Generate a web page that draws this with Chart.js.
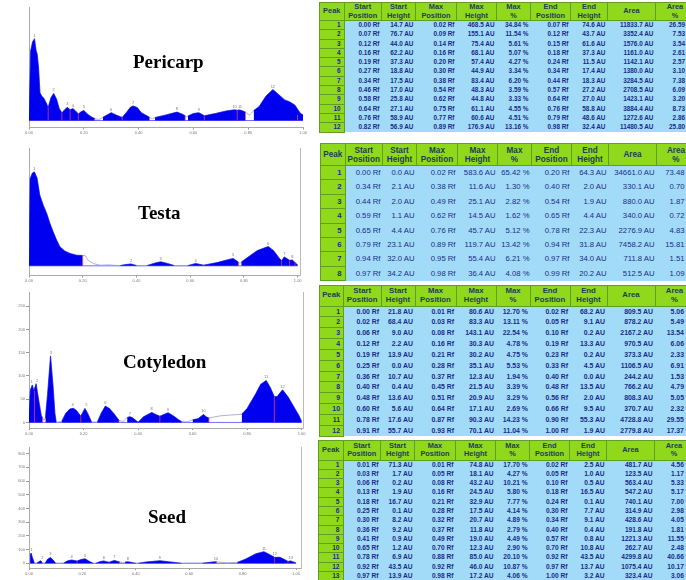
<!DOCTYPE html>
<html>
<head>
<meta charset="utf-8">
<title>Densitometric profiles</title>
<script src="https://cdn.jsdelivr.net/npm/chart.js@4.4.1/dist/chart.umd.min.js"></script>
<style>
  body { margin: 0; width: 686px; height: 580px; overflow: hidden; background: #fff; position: relative;
         font-family: "Liberation Sans", Arial, sans-serif; }
  canvas.panel { position: absolute; left: 0; }
  .title { position: absolute; font-family: "Liberation Serif", "Times New Roman", serif; font-weight: bold;
           font-size: 19px; line-height: 19px; color: #000; white-space: nowrap; z-index: 2; }
  .peaks { position: absolute; border-collapse: collapse; table-layout: fixed; color: #1a2b8a; }
  .peaks th { background: #8fd81c; border: 1px solid #5f9e1e; color: #1f3d5a; font-weight: bold; padding: 0;
              text-align: center; vertical-align: middle; overflow: hidden; white-space: nowrap; }
  .peaks td { background: #a2dbf7; padding: 0 2px 0 0; text-align: right; white-space: nowrap; overflow: hidden;
              vertical-align: middle; }
  .peaks td.pk { background: #8fd81c; border: 1px solid #5f9e1e; font-weight: bold; padding-right: 3px; }
</style>
</head>
<body>
<canvas id="pericarpChart" class="panel"></canvas>
<canvas id="testaChart" class="panel"></canvas>
<canvas id="cotyledonChart" class="panel"></canvas>
<canvas id="seedChart" class="panel"></canvas>
<div class="title" style="left:133px;top:52px">Pericarp</div>
<div class="title" style="left:138px;top:203px">Testa</div>
<div class="title" style="left:123px;top:352px">Cotyledon</div>
<div class="title" style="left:148px;top:507px">Seed</div>

<script>
// ---- profile traces (Rf, AU) ----
const pericarpRf = [0.000, 0.006, 0.013, 0.020, 0.026, 0.030, 0.035, 0.040, 0.046, 0.053, 0.060, 0.070, 0.080, 0.090, 0.100, 0.110, 0.120, 0.130, 0.140, 0.150, 0.160, 0.170, 0.180, 0.190, 0.200, 0.215, 0.230, 0.240, 0.255, 0.270, 0.285, 0.300, 0.320, 0.340, 0.355, 0.370, 0.380, 0.395, 0.410, 0.440, 0.450, 0.460, 0.500, 0.540, 0.560, 0.570, 0.575, 0.580, 0.600, 0.620, 0.640, 0.680, 0.720, 0.750, 0.760, 0.770, 0.790, 0.805, 0.820, 0.840, 0.865, 0.890, 0.910, 0.933, 0.950, 0.970, 0.990, 1.000];
const pericarpAU = [14.7, 400, 450, 468.5, 400, 380, 300, 160, 140, 130, 110, 74.6, 130, 155.1, 125, 70, 43.7, 62, 75.4, 61.6, 68.1, 55, 37.3, 50, 57.4, 35, 18, 11.5, 5, 18.8, 32, 44.9, 30, 17.4, 45, 76, 83.4, 74, 45, 18.3, 10, 17.0, 32, 48.3, 36, 27.2, 20, 25.8, 40, 44.8, 27.0, 40, 55, 61.1, 58.8, 60.6, 48.6, 30, 56.9, 80, 140, 176.9, 150, 118, 108, 89, 42, 32];
const pericarpGaps = [[0.245, 0.265], [0.445, 0.455], [0.572, 0.578], [0.795, 0.815]];

const testaRf = [0.000, 0.004, 0.012, 0.020, 0.030, 0.040, 0.053, 0.066, 0.078, 0.090, 0.103, 0.115, 0.134, 0.153, 0.177, 0.200, 0.208, 0.220, 0.240, 0.265, 0.300, 0.320, 0.340, 0.360, 0.380, 0.400, 0.420, 0.440, 0.470, 0.490, 0.515, 0.540, 0.565, 0.590, 0.620, 0.650, 0.700, 0.740, 0.760, 0.780, 0.785, 0.790, 0.820, 0.850, 0.890, 0.910, 0.930, 0.940, 0.950, 0.970, 0.980, 0.990, 1.000];
const testaAU = [0.0, 540, 575, 583.6, 545, 440, 377, 325, 263, 211, 159, 118, 91, 77, 66, 64.3, 66, 35, 14, 4, 6, 3, 2.1, 8, 11.6, 2.0, 1, 2.0, 18, 25.1, 15, 1.9, 1, 1.1, 14.5, 4.4, 20, 38, 45.7, 22.3, 15, 23.1, 60, 95, 119.7, 95, 50, 32.0, 55.4, 34.0, 36.4, 20.2, 5];
const testaGaps = [[0.202, 0.338], [0.402, 0.438], [0.542, 0.588], [0.781, 0.789]];

const cotyledonRf = [0.000, 0.005, 0.012, 0.018, 0.026, 0.035, 0.045, 0.050, 0.055, 0.060, 0.068, 0.079, 0.088, 0.095, 0.100, 0.110, 0.120, 0.135, 0.150, 0.163, 0.175, 0.190, 0.205, 0.215, 0.230, 0.240, 0.250, 0.265, 0.280, 0.295, 0.310, 0.330, 0.345, 0.360, 0.370, 0.380, 0.400, 0.420, 0.450, 0.465, 0.480, 0.510, 0.530, 0.550, 0.560, 0.580, 0.600, 0.620, 0.640, 0.650, 0.660, 0.700, 0.740, 0.770, 0.780, 0.800, 0.830, 0.850, 0.870, 0.885, 0.900, 0.910, 0.930, 0.950, 0.970, 0.990, 1.000];
const cotyledonAU = [21.8, 70, 80.6, 68.2, 83.3, 50, 15, 9.1, 4, 9.0, 60, 143.1, 80, 20, 0.2, 1, 2.2, 20, 29, 30.3, 25, 13.3, 30.2, 20, 0.2, 1, 0.0, 20, 35.1, 30, 20, 4.5, 2, 10.7, 12.3, 10, 0.4, 12, 21.5, 17, 13.5, 20.9, 14, 5, 2.0, 1, 5.6, 8, 17.1, 12, 9.5, 14, 16, 17, 17.6, 30, 60, 82, 90.3, 75, 55.3, 55.7, 70.1, 55, 35, 15, 1.9];
const cotyledonGaps = [[0.052, 0.058], [0.102, 0.118], [0.232, 0.248], [0.332, 0.358], [0.562, 0.598], [0.662, 0.778]];

const seedRf = [0.004, 0.008, 0.013, 0.020, 0.025, 0.030, 0.040, 0.045, 0.050, 0.055, 0.060, 0.070, 0.080, 0.090, 0.100, 0.115, 0.130, 0.145, 0.160, 0.170, 0.180, 0.195, 0.210, 0.225, 0.240, 0.245, 0.250, 0.265, 0.280, 0.290, 0.300, 0.310, 0.320, 0.330, 0.340, 0.350, 0.360, 0.370, 0.385, 0.400, 0.405, 0.410, 0.440, 0.490, 0.530, 0.570, 0.610, 0.650, 0.680, 0.700, 0.703, 0.740, 0.780, 0.810, 0.850, 0.880, 0.900, 0.920, 0.940, 0.960, 0.970, 0.980, 0.990, 1.000];
const seedAU = [60, 74.8, 40, 2.5, 1, 1.7, 15, 18.1, 1.0, 0.5, 0.2, 30, 43.2, 25, 0.5, 0.5, 1.9, 18, 24.5, 20, 16.5, 28, 32.9, 15, 0.1, 0.1, 0.1, 12, 17.5, 12, 7.7, 15, 20.7, 15, 9.1, 6, 9.2, 11.8, 6, 0.4, 0.5, 0.9, 10, 19.0, 10, 0.8, 2, 1.2, 8, 12.3, 10.8, 4, 6.9, 30, 70, 85.0, 65, 43.5, 44, 25, 13.7, 17.2, 10, 3.2];
const seedGaps = [[0.022, 0.028], [0.052, 0.058], [0.102, 0.128], [0.242, 0.248], [0.342, 0.358], [0.402, 0.408], [0.572, 0.648], [0.705, 0.775]];

const rfTicks = [0, 0.2, 0.4, 0.6, 0.8, 1.0];

// ---- peak tables ----
const headerLines = [['Peak'], ['Start', 'Position'], ['Start', 'Height'], ['Max', 'Position'], ['Max', 'Height'], ['Max', '%'], ['End', 'Position'], ['End', 'Height'], ['Area'], ['Area', '%']];
const units = [' Rf', ' AU', ' Rf', ' AU', ' %', ' Rf', ' AU', ' AU', ' %'];
const decimals = [2, 1, 2, 1, 2, 2, 1, 1, 2];

const pericarpStartPos = [0.00, 0.07, 0.12, 0.16, 0.19, 0.27, 0.34, 0.46, 0.58, 0.64, 0.76, 0.82];
const pericarpStartH = [14.7, 76.7, 44.0, 62.2, 37.3, 18.8, 17.5, 17.0, 25.8, 27.1, 58.9, 56.9];
const pericarpMaxPos = [0.02, 0.09, 0.14, 0.16, 0.20, 0.30, 0.38, 0.54, 0.62, 0.75, 0.77, 0.89];
const pericarpMaxH = [468.5, 155.1, 75.4, 68.1, 57.4, 44.9, 83.4, 48.3, 44.8, 61.1, 60.6, 176.9];
const pericarpMaxPct = [34.84, 11.54, 5.61, 5.07, 4.27, 3.34, 6.20, 3.59, 3.33, 4.55, 4.51, 13.16];
const pericarpEndPos = [0.07, 0.12, 0.15, 0.18, 0.24, 0.34, 0.44, 0.57, 0.64, 0.76, 0.79, 0.98];
const pericarpEndH = [74.6, 43.7, 61.6, 37.3, 11.5, 17.4, 18.3, 27.2, 27.0, 58.8, 48.6, 32.4];
const pericarpArea = [11833.7, 3352.4, 1576.0, 1161.0, 1142.1, 1380.0, 3284.5, 2708.5, 1423.1, 3884.4, 1272.6, 11480.5];
const pericarpAreaPct = [26.59, 7.53, 3.54, 2.61, 2.57, 3.10, 7.38, 6.09, 3.20, 8.73, 2.86, 25.80];

const testaStartPos = [0.00, 0.34, 0.44, 0.59, 0.65, 0.79, 0.94, 0.97];
const testaStartH = [0.0, 2.1, 2.0, 1.1, 4.4, 23.1, 32.0, 34.2];
const testaMaxPos = [0.02, 0.38, 0.49, 0.62, 0.76, 0.89, 0.95, 0.98];
const testaMaxH = [583.6, 11.6, 25.1, 14.5, 45.7, 119.7, 55.4, 36.4];
const testaMaxPct = [65.42, 1.30, 2.82, 1.62, 5.12, 13.42, 6.21, 4.08];
const testaEndPos = [0.20, 0.40, 0.54, 0.65, 0.78, 0.94, 0.97, 0.99];
const testaEndH = [64.3, 2.0, 1.9, 4.4, 22.3, 31.8, 34.0, 20.2];
const testaArea = [34661.0, 330.1, 880.0, 340.0, 2276.9, 7458.2, 711.8, 512.5];
const testaAreaPct = [73.48, 0.70, 1.87, 0.72, 4.83, 15.81, 1.51, 1.09];

const cotyledonStartPos = [0.00, 0.02, 0.06, 0.12, 0.19, 0.25, 0.36, 0.40, 0.48, 0.60, 0.78, 0.91];
const cotyledonStartH = [21.8, 68.4, 9.0, 2.2, 13.9, 0.0, 10.7, 0.4, 13.6, 5.6, 17.6, 55.7];
const cotyledonMaxPos = [0.01, 0.03, 0.08, 0.16, 0.21, 0.28, 0.37, 0.45, 0.51, 0.64, 0.87, 0.93];
const cotyledonMaxH = [80.6, 83.3, 143.1, 30.3, 30.2, 35.1, 12.3, 21.5, 20.9, 17.1, 90.3, 70.1];
const cotyledonMaxPct = [12.70, 13.11, 22.54, 4.78, 4.75, 5.53, 1.94, 3.39, 3.29, 2.69, 14.23, 11.04];
const cotyledonEndPos = [0.02, 0.05, 0.10, 0.19, 0.23, 0.33, 0.40, 0.48, 0.56, 0.66, 0.90, 1.00];
const cotyledonEndH = [68.2, 9.1, 0.2, 13.3, 0.2, 4.5, 0.0, 13.5, 2.0, 9.5, 55.3, 1.9];
const cotyledonArea = [809.5, 878.2, 2167.2, 970.5, 373.3, 1106.5, 244.2, 766.2, 808.3, 370.7, 4728.8, 2779.8];
const cotyledonAreaPct = [5.06, 5.49, 13.54, 6.06, 2.33, 6.91, 1.53, 4.79, 5.05, 2.32, 29.55, 17.37];

const seedStartPos = [0.01, 0.03, 0.06, 0.13, 0.18, 0.25, 0.30, 0.36, 0.41, 0.65, 0.78, 0.92, 0.97];
const seedStartH = [71.3, 1.7, 0.2, 1.9, 16.7, 0.1, 8.2, 9.2, 0.9, 1.2, 6.9, 43.5, 13.9];
const seedMaxPos = [0.01, 0.05, 0.08, 0.16, 0.21, 0.28, 0.32, 0.37, 0.49, 0.70, 0.88, 0.92, 0.98];
const seedMaxH = [74.8, 18.1, 43.2, 24.5, 32.9, 17.5, 20.7, 11.8, 19.0, 12.3, 85.0, 46.0, 17.2];
const seedMaxPct = [17.70, 4.27, 10.21, 5.80, 7.77, 4.14, 4.89, 2.79, 4.49, 2.90, 20.10, 10.87, 4.06];
const seedEndPos = [0.02, 0.05, 0.10, 0.18, 0.24, 0.30, 0.34, 0.40, 0.57, 0.70, 0.92, 0.97, 1.00];
const seedEndH = [2.5, 1.0, 0.5, 16.5, 0.1, 7.7, 9.1, 0.4, 0.8, 10.8, 43.5, 13.7, 3.2];
const seedArea = [481.7, 123.5, 563.4, 547.2, 740.1, 314.9, 428.6, 191.8, 1221.3, 262.7, 4299.8, 1075.4, 323.4];
const seedAreaPct = [4.56, 1.17, 5.33, 5.17, 7.00, 2.98, 4.05, 1.81, 11.55, 2.48, 40.66, 10.17, 3.06];

// column widths shared by the four tables (last column runs off the page)
const colWidths = [24.5, 37.5, 34, 41, 40, 34, 40, 37, 48, 39];

// red peak borders + tiny peak numbers, drawn with the chart's own scales
function peakMarks(endPos, endH, maxPos, maxH) {
  return {
    id: 'peakMarks',
    afterDatasetsDraw(chart) {
      const { ctx, scales: { x, y } } = chart;
      ctx.save();
      ctx.strokeStyle = '#e8386a';
      ctx.lineWidth = 0.8;
      endPos.forEach((p, i) => {
        const px = x.getPixelForValue(p);
        ctx.beginPath();
        ctx.moveTo(px, y.getPixelForValue(0));
        ctx.lineTo(px, y.getPixelForValue(endH[i]));
        ctx.stroke();
      });
      ctx.fillStyle = '#777';
      ctx.font = '4px "Liberation Sans"';
      ctx.textAlign = 'center';
      maxPos.forEach((p, i) => {
        ctx.fillText(String(i + 1), x.getPixelForValue(p), y.getPixelForValue(maxH[i]) - 2);
      });
      ctx.restore();
    }
  };
}

function drawProfile(id, rf, au, gaps, marks, v) {
  const canvas = document.getElementById(id);
  canvas.width = v.right + 5;
  canvas.height = v.h;
  canvas.style.top = v.top + 'px';

  const trace = rf.map((x, i) => ({ x: x, y: au[i] }));
  const filled = rf.map((x, i) => ({ x: x, y: gaps.some(g => x > g[0] && x < g[1]) ? null : au[i] }));
  const baseline = [{ x: rf[0], y: 0 }, { x: rf[rf.length - 1], y: 0 }];

  new Chart(canvas, {
    type: 'line',
    data: {
      datasets: [
        { data: filled, fill: 'origin', backgroundColor: '#0000f0', borderColor: '#0000f0', borderWidth: 0.5,
          pointRadius: 0, spanGaps: false, tension: 0, order: 0 },
        { data: trace, fill: false, borderColor: '#9a9ad6', borderWidth: 0.8, pointRadius: 0, tension: 0, order: 1 },
        { data: baseline, fill: false, borderColor: '#4a4af0', borderWidth: 0.8, pointRadius: 0, order: 2 }
      ]
    },
    options: {
      responsive: false,
      animation: false,
      devicePixelRatio: 1,
      events: [],
      layout: { autoPadding: false, padding: { top: v.padTop, left: 0, right: 0, bottom: 0 } },
      plugins: { legend: { display: false }, tooltip: { enabled: false } },
      scales: {
        x: {
          type: 'linear', min: 0, max: v.xMax,
          afterFit: s => { s.height = v.h - v.bottom; },
          afterBuildTicks: s => { s.ticks = rfTicks.map(t => ({ value: t })); },
          ticks: { font: { size: 4 }, color: '#777', padding: 1, maxRotation: 0, autoSkip: false,
                   callback: val => Number(val).toFixed(2) },
          grid: { drawOnChartArea: false, tickLength: 2, color: '#999' },
          border: { color: '#aaa' }
        },
        y: {
          type: 'linear', min: v.yMin, max: v.yMax,
          afterFit: s => { s.width = 29; },
          afterBuildTicks: s => {
            s.ticks = s.ticks.filter(t => Math.abs(t.value / v.yStep - Math.round(t.value / v.yStep)) < 1e-6);
          },
          ticks: { stepSize: v.yStep, font: { size: 4 }, color: '#777', padding: 1 },
          grid: { drawOnChartArea: false, tickLength: 3, color: '#999' },
          border: { color: '#aaa' }
        },
        y2: {
          position: 'right',
          afterFit: s => { s.width = 5; },
          ticks: { display: false },
          grid: { display: false },
          border: { display: v.frame, color: '#bbb' }
        }
      }
    },
    plugins: [peakMarks(marks[0], marks[1], marks[2], marks[3])]
  });
}

function buildTable(cols, g) {
  const t = document.createElement('table');
  t.className = 'peaks';
  t.style.left = g.left + 'px';
  t.style.top = g.top + 'px';
  t.style.width = colWidths.reduce((a, b) => a + b, 0) + 'px';
  t.style.fontSize = g.bodyFont + 'px';
  t.style.fontWeight = g.bodyWeight;
  t.style.lineHeight = (g.rowH - 1) + 'px';

  const cg = document.createElement('colgroup');
  colWidths.forEach(w => {
    const c = document.createElement('col');
    c.style.width = w + 'px';
    cg.appendChild(c);
  });
  t.appendChild(cg);

  const hr = t.insertRow();
  hr.style.height = g.headH + 'px';
  headerLines.forEach(lines => {
    const th = document.createElement('th');
    th.innerHTML = lines.join('<br>');
    th.style.fontSize = g.headFont + 'px';
    th.style.lineHeight = (g.headFont + 0.8) + 'px';
    hr.appendChild(th);
  });

  cols[0].forEach((_, i) => {
    const tr = t.insertRow();
    tr.style.height = g.rowH + 'px';
    const pk = tr.insertCell();
    pk.className = 'pk';
    pk.textContent = i + 1;
    cols.forEach((col, j) => {
      const td = tr.insertCell();
      td.textContent = col[i].toFixed(decimals[j]) + units[j];
    });
  });
  document.body.appendChild(t);
}

window.onload = function () {
  drawProfile('pericarpChart', pericarpRf, pericarpAU, pericarpGaps,
    [pericarpEndPos, pericarpEndH, pericarpMaxPos, pericarpMaxH],
    { top: 0, h: 140, padTop: 7, bottom: 127.5, right: 303, xMax: 1.0, yMin: -40, yMax: 650, yStep: 100, frame: false });
  drawProfile('testaChart', testaRf, testaAU, testaGaps,
    [testaEndPos, testaEndH, testaMaxPos, testaMaxH],
    { top: 145, h: 140, padTop: 3.3, bottom: 130.5, right: 300, xMax: 1.0086, yMin: -60, yMax: 730, yStep: 100, frame: true });
  drawProfile('cotyledonChart', cotyledonRf, cotyledonAU, cotyledonGaps,
    [cotyledonEndPos, cotyledonEndH, cotyledonMaxPos, cotyledonMaxH],
    { top: 285, h: 150, padTop: 7.3, bottom: 143, right: 303, xMax: 1.005, yMin: -12, yMax: 280, yStep: 50, frame: true });
  drawProfile('seedChart', seedRf, seedAU, seedGaps,
    [seedEndPos, seedEndH, seedMaxPos, seedMaxH],
    { top: 435, h: 145, padTop: 12.7, bottom: 133, right: 301.7, xMax: 1.0187, yMin: -34, yMax: 843, yStep: 100, frame: true });

  buildTable([pericarpStartPos, pericarpStartH, pericarpMaxPos, pericarpMaxH, pericarpMaxPct, pericarpEndPos, pericarpEndH, pericarpArea, pericarpAreaPct],
    { left: 319, top: 2, headH: 18, rowH: 9.3, bodyFont: 6.4, bodyWeight: 'bold', headFont: 7.4 });
  buildTable([testaStartPos, testaStartH, testaMaxPos, testaMaxH, testaMaxPct, testaEndPos, testaEndH, testaArea, testaAreaPct],
    { left: 320, top: 143, headH: 22, rowH: 14.4, bodyFont: 7.7, bodyWeight: 'normal', headFont: 8.2 });
  buildTable([cotyledonStartPos, cotyledonStartH, cotyledonMaxPos, cotyledonMaxH, cotyledonMaxPct, cotyledonEndPos, cotyledonEndH, cotyledonArea, cotyledonAreaPct],
    { left: 318.5, top: 285, headH: 20.5, rowH: 10.85, bodyFont: 6.9, bodyWeight: 'bold', headFont: 7.8 });
  buildTable([seedStartPos, seedStartH, seedMaxPos, seedMaxH, seedMaxPct, seedEndPos, seedEndH, seedArea, seedAreaPct],
    { left: 318, top: 440, headH: 19.5, rowH: 9.3, bodyFont: 6.6, bodyWeight: 'bold', headFont: 7.4 });
};
</script>
</body>
</html>
